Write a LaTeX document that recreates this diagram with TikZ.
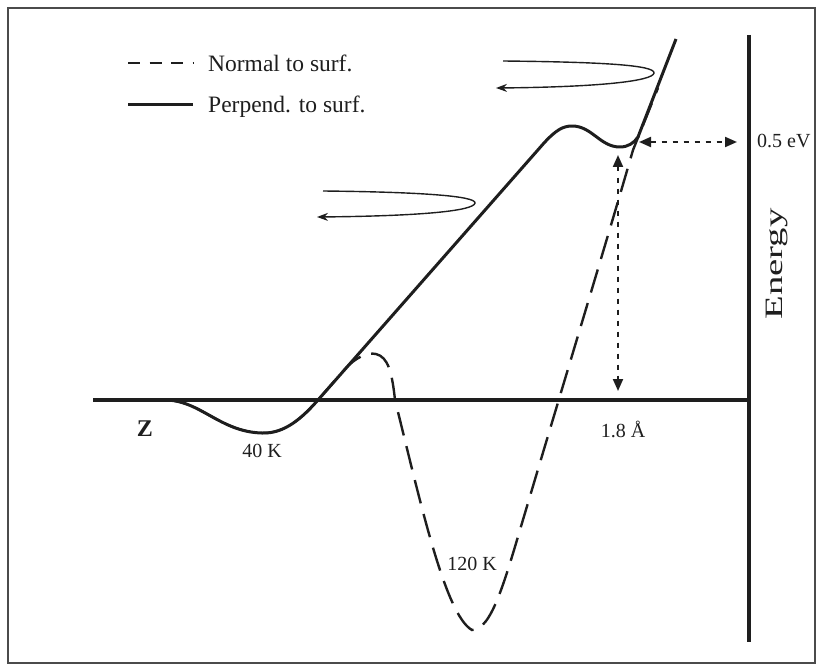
\documentclass[tikz,border=0pt]{standalone}
\usepackage{fontspec}
\setmainfont{Liberation Serif}
\usetikzlibrary{arrows.meta}
\definecolor{ink}{RGB}{30,30,30}
\tikzset{
  axisline/.style={line width=4pt, draw=ink},
  perpcurve/.style={line width=3pt, draw=ink, line join=round},
  normcurve/.style={line width=2.4pt, draw=ink, dash pattern=on 24pt off 11pt},
  swirl/.style={line width=1.4pt, draw=ink, -{Stealth[length=11pt,width=8pt]}},
  dotarrow/.style={line width=2pt, draw=ink, dash pattern=on 5pt off 6pt,
     {Triangle[length=12pt,width=10pt]}-{Triangle[length=12pt,width=10pt]}},
  legtext/.style={font=\fontsize{23.5}{28}\selectfont, text=ink, anchor=base west, inner sep=0pt},
  lbl/.style={font=\fontsize{20}{24}\selectfont, text=ink, anchor=base, inner sep=0pt},
}
\begin{document}
\begin{tikzpicture}[x=1pt, y=-1pt]
\useasboundingbox (0,0) rectangle (822,666);
\draw[line width=1.5pt, draw=ink!80] (8,8) rectangle (815,663);

% axes
\coordinate (hx0) at (93,400);
\coordinate (hx1) at (749,400);
\coordinate (vy0) at (749,35);
\coordinate (vy1) at (749,642);
\draw[axisline] (hx0) -- (hx1);
\draw[axisline] (vy0) -- (vy1);

% normal to surface (dashed)
\draw[normcurve] (93,400) -- (165,400)
  .. controls (200,400) and (220,432) .. (262,433)
  .. controls (285,434) and (303,417) .. (318,400)
  -- (345,369)
  .. controls (355,358) and (367,352) .. (376,354)
  .. controls (388,357) and (392,372) .. (395,400)
  .. controls (420,500) and (445,615) .. (472,630)
  .. controls (492,630) and (505,580) .. (525,513)
  .. controls (560,395) and (610,230) .. (633,150)
  -- (658,88);

% perpendicular to surface (solid)
\draw[perpcurve] (93,400) -- (165,400)
  .. controls (200,400) and (220,432) .. (262,433)
  .. controls (285,434) and (303,417) .. (318,400)
  -- (544,143)
  .. controls (556,130) and (563,126) .. (572,126)
  .. controls (592,126) and (600,147) .. (620,147)
  .. controls (628,147) and (634,143) .. (638,137)
  -- (676,39);

% swirl arrows
\coordinate (s1a) at (503,61);
\coordinate (s1b) at (654,73);
\coordinate (s1c) at (496,88);
\draw[swirl] (s1a) .. controls (600,62) and (655,65) .. (s1b)
  .. controls (653,81) and (600,87) .. (s1c);
\coordinate (s2a) at (323,191);
\coordinate (s2b) at (475,203);
\coordinate (s2c) at (317,217);
\draw[swirl] (s2a) .. controls (420,192) and (476,196) .. (s2b)
  .. controls (474,211) and (420,216) .. (s2c);

% dotted double arrows
\coordinate (va) at (618,155);
\coordinate (vb) at (618,391);
\draw[dotarrow] (va) -- (vb);
\coordinate (ha) at (639,142);
\coordinate (hb) at (737,142);
\draw[dotarrow] (ha) -- (hb);

% legend
\coordinate (l1a) at (128,63);
\coordinate (l1b) at (193,63);
\draw[line width=2.4pt, draw=ink, dash pattern=on 12pt off 9.5pt] (l1a) -- (l1b);
\coordinate (l2a) at (128,105);
\coordinate (l2b) at (193,105);
\draw[line width=3pt, draw=ink] (l2a) -- (l2b);
\node[legtext] (tnorm) at (208,72) {Normal to surf.};
\node[legtext] (tperp) at (208,113) {Perpend. to surf.};

% labels
\node[font=\fontsize{24}{28}\selectfont\bfseries, text=ink, inner sep=0pt] (tz) at (145,429) {Z};
\node[lbl] (t40) at (262,457) {40 K};
\node[lbl] (t120) at (472,570) {120 K};
\node[lbl] (t18) at (623,437) {1.8 Å};
\node[font=\fontsize{20}{24}\selectfont, text=ink, anchor=base west, inner sep=0pt] (t05) at (757,148) {0.5 eV};
\node[font=\fontsize{25}{30}\selectfont, text=ink, anchor=base, inner sep=0pt, rotate=90] (ten) at (782,264) {\scalebox{1.55}[1]{Energy}};
\end{tikzpicture}
\end{document}
